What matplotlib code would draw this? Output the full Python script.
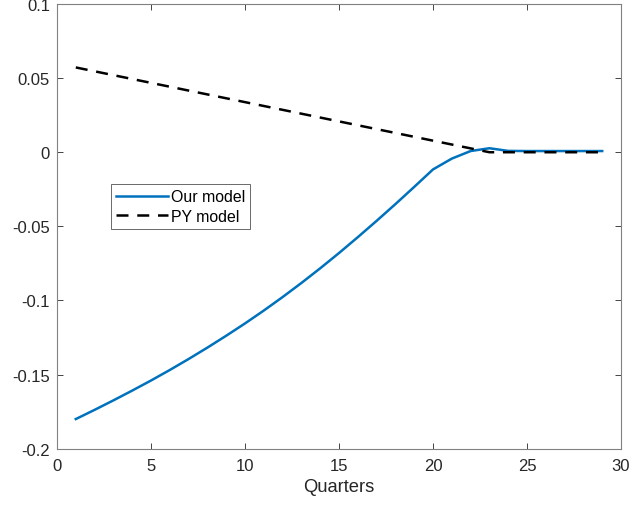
import matplotlib
matplotlib.use('Agg')
import matplotlib.pyplot as plt

quarters = list(range(1, 30))
our_model = [-0.1800, -0.1738, -0.1674, -0.1608, -0.1540, -0.1469, -0.1395, -0.1318,
             -0.1238, -0.1155, -0.1068, -0.0977, -0.0882, -0.0783, -0.0680, -0.0573,
             -0.0463, -0.0350, -0.0234, -0.0116, -0.0043, 0.0008, 0.0027, 0.0009,
             0.0008, 0.0008, 0.0008, 0.0008, 0.0008]
py_model = [0.0572, 0.0546, 0.0520, 0.0494, 0.0468, 0.0442, 0.0416, 0.0390,
            0.0364, 0.0338, 0.0312, 0.0286, 0.0260, 0.0234, 0.0208, 0.0182,
            0.0156, 0.0130, 0.0104, 0.0078, 0.0052, 0.0026, 0.0000, 0.0000,
            0.0000, 0.0000, 0.0000, 0.0000, 0.0000]
xticks = [0, 5, 10, 15, 20, 25, 30]
yticks = [-0.2, -0.15, -0.1, -0.05, 0, 0.05, 0.1]
ytick_labels = ['-0.2', '-0.15', '-0.1', '-0.05', '0', '0.05', '0.1']

plt.rcParams['font.family'] = ['Liberation Sans', 'DejaVu Sans']

fig = plt.figure(figsize=(6.31, 5.10), dpi=100)
ax = fig.add_axes([57 / 631, 1 - 449.7 / 510, 564 / 631, 444.7 / 510])

ax.plot(quarters, our_model, color='#0072BD', lw=1.8, label='Our model')
ax.plot(quarters, py_model, color='black', lw=1.8, linestyle=(0, (4.8, 3.5)), label='PY model')

ax.set_xlim(0, 30)
ax.set_ylim(-0.2, 0.1)
ax.set_xticks(xticks)
ax.set_yticks(yticks)
ax.set_yticklabels(ytick_labels)
ax.tick_params(direction='in', top=True, right=True, labelsize=12, colors='#262626',
               length=4, width=0.6)
ax.tick_params(axis='x', pad=7)
ax.tick_params(axis='y', pad=5)
for s in ax.spines.values():
    s.set_color('#808080')
    s.set_linewidth(0.8)

ax.set_xlabel('Quarters', fontsize=13.2, color='#262626', labelpad=3)

leg = ax.legend(loc='upper left', bbox_to_anchor=(111 / 631, 1 - 185 / 510),
                bbox_transform=fig.transFigure, fontsize=11.4, frameon=True, fancybox=False,
                borderaxespad=0, handlelength=3.3, handletextpad=0.15, borderpad=0.32,
                labelspacing=0.3)
leg.get_frame().set_edgecolor('#262626')
leg.get_frame().set_linewidth(0.6)

fig.savefig('out.png', dpi=100)
